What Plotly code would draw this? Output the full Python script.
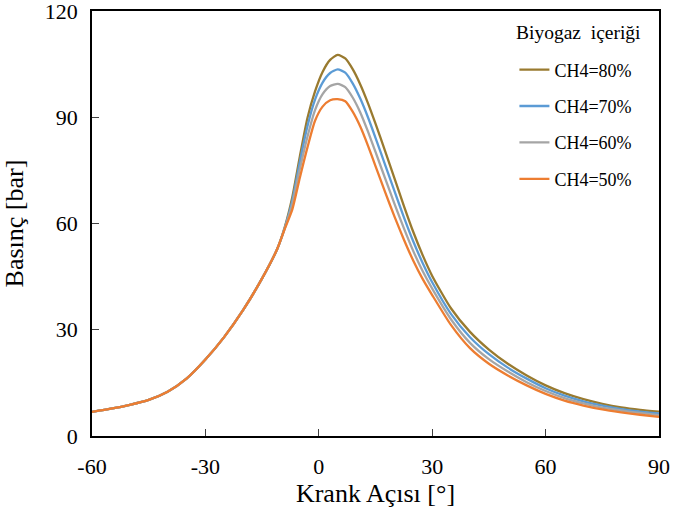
import plotly.graph_objects as go

# Shared compression part (all mixtures identical)
x_common = [-60, -55, -50, -45, -40, -35, -30, -25, -20, -15, -11]
p_common = [6.8, 7.7, 8.8, 10.2, 12.5, 16.2, 21.6, 28.0, 35.6, 44.5, 52.8]

# Combustion / expansion part
x_comb = [-9, -7, -5, -3, -1, 1, 3, 5, 7, 9, 11, 13, 15, 17.5, 20, 22.5, 25, 27.5,
          30, 35, 40, 45, 50, 55, 60, 65, 70, 75, 80, 85, 90]
p_ch4_80 = [59.0, 67.5, 79.0, 89.8, 97.3, 102.8, 106.2, 107.6, 106.6, 103.5, 99.2, 94.0,
            88.2, 80.6, 72.8, 65.0, 57.6, 51.0, 45.2, 36.0, 29.4, 24.4, 20.4, 17.1,
            14.3, 12.1, 10.4, 9.1, 8.1, 7.4, 6.9]
p_ch4_70 = [58.8, 66.5, 77.5, 87.5, 95.0, 99.8, 102.5, 103.5, 102.6, 99.5, 95.2, 90.0,
            84.2, 76.7, 69.2, 61.8, 54.9, 48.8, 43.4, 34.4, 27.9, 23.1, 19.3, 16.2,
            13.5, 11.4, 9.8, 8.6, 7.6, 6.9, 6.4]
p_ch4_60 = [58.6, 65.5, 75.5, 84.5, 92.0, 96.5, 98.8, 99.4, 98.5, 95.5, 91.3, 86.0,
            80.2, 72.9, 65.6, 58.7, 52.2, 46.5, 41.6, 32.9, 26.3, 21.7, 18.2, 15.2,
            12.7, 10.7, 9.2, 8.0, 7.2, 6.5, 5.9]
p_ch4_50 = [58.5, 64.0, 73.0, 81.5, 89.0, 93.0, 94.8, 95.1, 94.5, 91.5, 87.3, 82.0,
            76.2, 69.0, 62.0, 55.5, 49.5, 44.3, 39.8, 31.3, 24.8, 20.4, 17.1, 14.3,
            11.9, 10.0, 8.6, 7.5, 6.7, 6.0, 5.4]

series_names = ["CH4=80%", "CH4=70%", "CH4=60%", "CH4=50%"]
series_vals = [p_ch4_80, p_ch4_70, p_ch4_60, p_ch4_50]
colors = ["#997A2F", "#5B9BD5", "#A5A5A5", "#ED7D31"]

x_ticks = [-60, -30, 0, 30, 60, 90]
x_ticktext = ["-60", "-30", "0", "30", "60", "90"]
y_ticks = [0, 30, 60, 90, 120]

FONT = "Times New Roman, Liberation Serif, serif"

fig = go.Figure()
for name, vals, col in zip(series_names, series_vals, colors):
    fig.add_trace(go.Scatter(
        x=x_common + x_comb, y=p_common + vals, mode="lines", name=name,
        legendgroup=name,
        line=dict(color=col, width=2.3, shape="spline", smoothing=0.6),
    ))

fig.update_layout(
    width=675, height=516,
    margin=dict(l=92, r=16, t=11, b=80),
    paper_bgcolor="white", plot_bgcolor="white",
    font=dict(family=FONT, color="black"),
    showlegend=True,
    legend=dict(x=0.745, y=0.905, xanchor="left", yanchor="top",
                font=dict(family=FONT, size=18, color="black"),
                bgcolor="rgba(0,0,0,0)", tracegroupgap=10,
                itemwidth=30),
    annotations=[dict(text="Biyogaz  içeriği", x=0.972, y=0.95, xref="paper", yref="paper",
                      xanchor="right", yanchor="middle", showarrow=False,
                      font=dict(family=FONT, size=19.5, color="black"))],
)
fig.update_xaxes(range=[-60, 90], tickvals=x_ticks, ticktext=x_ticktext,
                 ticks="inside", ticklen=7, tickwidth=1, tickcolor="#404040",
                 showline=True, linecolor="black", linewidth=1.5, mirror=True,
                 showgrid=False, zeroline=False, automargin=False,
                 ticklabelstandoff=10, ticklabeloverflow="allow",
                 tickfont=dict(family=FONT, size=22),
                 title=dict(text="Krank Açısı [°]", font=dict(family=FONT, size=26), standoff=2))
fig.update_yaxes(range=[0, 120], tickvals=y_ticks, ticks="inside", ticklen=7,
                 tickwidth=1, tickcolor="#404040",
                 showline=True, linecolor="black", linewidth=1.5, mirror=True,
                 showgrid=False, zeroline=False, automargin=False,
                 ticklabelstandoff=8, ticklabeloverflow="allow",
                 tickfont=dict(family=FONT, size=22),
                 title=dict(text="Basınç [bar]", font=dict(family=FONT, size=26), standoff=17))

fig.write_html("out.html")
